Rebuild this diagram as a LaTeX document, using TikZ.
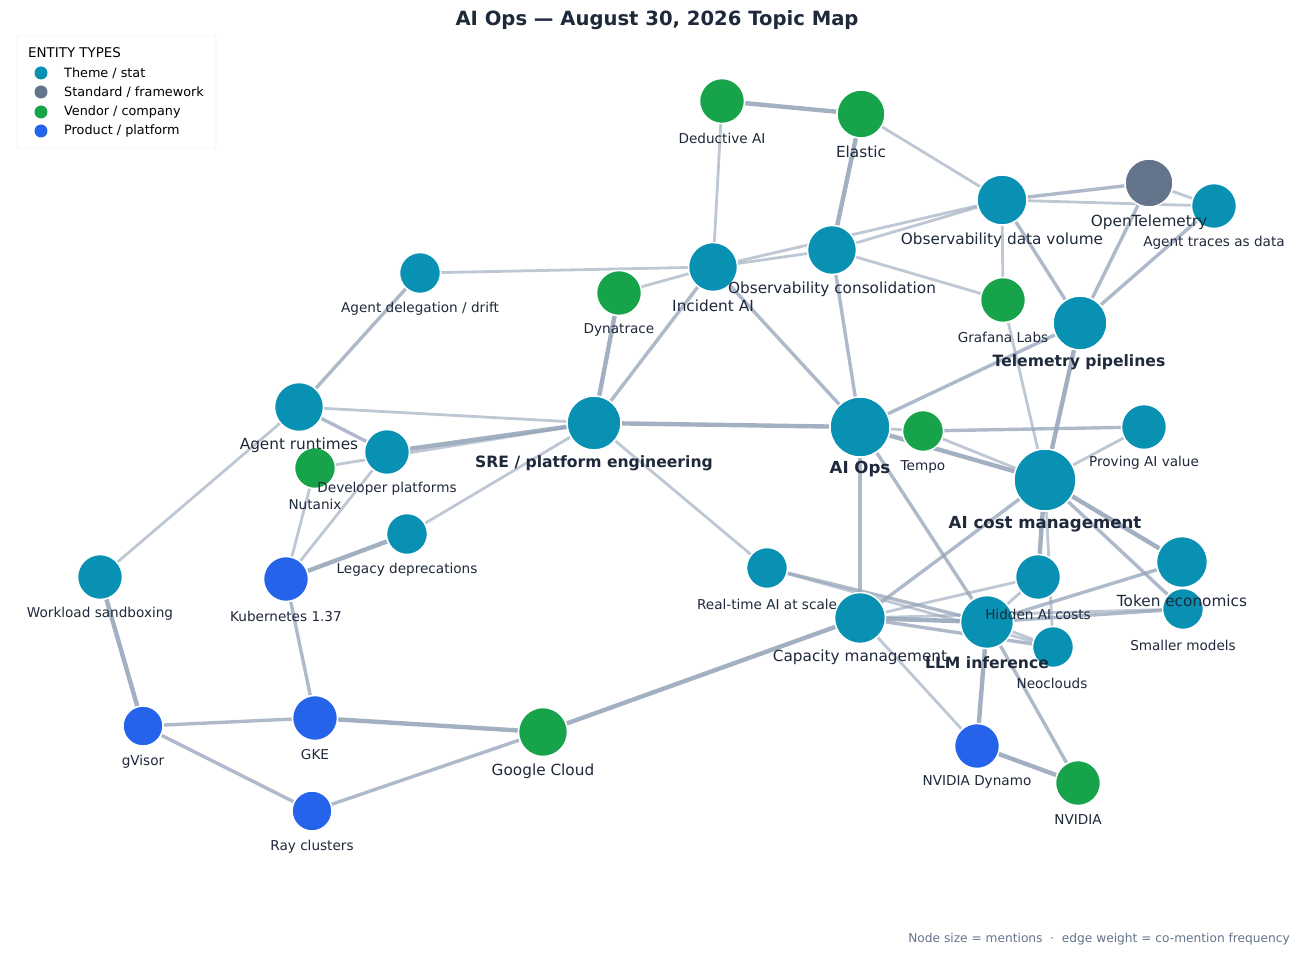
\documentclass[tikz,border=0pt]{standalone}
\usepackage{fontspec}
\setmainfont{DejaVu Sans}
\pgfdeclarelayer{back}\pgfdeclarelayer{bg}\pgfsetlayers{back,bg,main}
\definecolor{theme}{HTML}{0891B2}
\definecolor{stdc}{HTML}{64748B}
\definecolor{vend}{HTML}{16A34A}
\definecolor{prod}{HTML}{2563EB}
\definecolor{ink}{HTML}{1E293B}
\definecolor{edge}{HTML}{94A3B8}
\begin{document}
\begin{tikzpicture}[x=1pt,y=-1pt,
  ent/.style={circle,draw=white,line width=1.5pt,inner sep=0pt},
  th/.style={ent,fill=theme}, sd/.style={ent,fill=stdc}, vd/.style={ent,fill=vend}, pd/.style={ent,fill=prod},
  sl/.style={text=ink,font=\fontsize{13.6}{15}\selectfont,inner sep=0pt},
  ml/.style={text=ink,font=\fontsize{15.3}{17}\selectfont,inner sep=0pt},
  bl/.style={text=ink,font=\bfseries\fontsize{15.6}{17}\selectfont,inner sep=0pt},
  e/.style={draw=edge,line width=2.8pt,opacity=0.6},
  ek/.style={draw=edge,line width=4.4pt,opacity=0.85},
  ef/.style={draw=edge,line width=3.4pt,opacity=0.75}]
\useasboundingbox (0,0) rectangle (1314,957);
\begin{pgfonlayer}{back}\fill[white] (0,0) rectangle (1314,957);\end{pgfonlayer}
\node[font=\bfseries\fontsize{19.6}{22}\selectfont,text=ink] (title) at (657,20) {AI Ops — August 30, 2026 Topic Map};
% nodes
\node[th,minimum size=60] (aiops) at (860,427) {};
\node[th,minimum size=62] (cost) at (1045,480) {};
\node[th,minimum size=54] (sre) at (594,423) {};
\node[th,minimum size=54] (tele) at (1080,323) {};
\node[th,minimum size=50] (odv) at (1002,200) {};
\node[sd,minimum size=48] (otel) at (1149,183) {};
\node[th,minimum size=45] (atd) at (1214,206) {};
\node[vd,minimum size=48] (elastic) at (861,114) {};
\node[vd,minimum size=45] (deduct) at (722,101) {};
\node[th,minimum size=49] (ocons) at (832,250) {};
\node[th,minimum size=49] (inc) at (713,267) {};
\node[vd,minimum size=45] (dyna) at (619,293) {};
\node[vd,minimum size=45] (graf) at (1003,300) {};
\node[th,minimum size=41] (adrift) at (420,273) {};
\node[th,minimum size=49] (art) at (299,407) {};
\node[th,minimum size=45] (dev) at (387,452) {};
\node[vd,minimum size=41] (nut) at (315,468) {};
\node[th,minimum size=41] (leg) at (407,534) {};
\node[pd,minimum size=45] (k8s) at (286,579) {};
\node[th,minimum size=45] (wsb) at (100,577) {};
\node[pd,minimum size=40] (gvis) at (143,726) {};
\node[pd,minimum size=45] (gke) at (315,718) {};
\node[pd,minimum size=40] (ray) at (312,811) {};
\node[vd,minimum size=49] (gcloud) at (543,732) {};
\node[vd,minimum size=41] (tempo) at (923,431) {};
\node[th,minimum size=45] (prove) at (1144,427) {};
\node[th,minimum size=41] (rt) at (767,568) {};
\node[th,minimum size=51] (cap) at (860,618) {};
\node[th,minimum size=53] (llm) at (987,622) {};
\node[th,minimum size=45] (hid) at (1038,577) {};
\node[th,minimum size=51] (tok) at (1182,562) {};
\node[th,minimum size=41] (small) at (1183,609) {};
\node[th,minimum size=41] (neo) at (1053,647) {};
\node[pd,minimum size=45] (dyn) at (977,746) {};
\node[vd,minimum size=45] (nv) at (1078,783) {};
% edges
\begin{pgfonlayer}{bg}
\foreach \a/\b/\s in {deduct/elastic/ek,deduct/inc/e,elastic/ocons/ek,elastic/odv/e,odv/otel/ef,odv/atd/e,otel/atd/e,
 odv/tele/ef,odv/graf/e,odv/ocons/e,otel/tele/ef,atd/tele/ef,inc/ocons/e,inc/odv/e,ocons/graf/e,ocons/aiops/ef,
 inc/adrift/e,inc/dyna/e,inc/sre/ef,inc/aiops/ef,dyna/sre/ek,graf/cost/e,tele/aiops/ef,tele/cost/ek,
 adrift/art/ef,art/sre/e,art/dev/ef,art/wsb/e,dev/sre/ek,nut/sre/e,nut/k8s/e,dev/k8s/e,sre/leg/e,leg/k8s/ek,
 sre/aiops/ek,sre/rt/e,aiops/tempo/e,aiops/cost/ek,aiops/cap/ef,aiops/llm/ef,tempo/prove/ef,cost/prove/e,
 cost/hid/ek,cost/tok/ek,cost/small/ef,cost/cap/ef,cost/neo/e,tempo/cost/e,rt/llm/ef,rt/neo/e,
 cap/hid/e,cap/llm/ek,cap/neo/ef,cap/small/e,cap/gcloud/ek,cap/dyn/e,llm/hid/e,llm/tok/ef,llm/small/ef,llm/dyn/ek,
 llm/nv/ef,llm/neo/e,dyn/nv/ek,k8s/gke/ef,wsb/gvis/ek,gvis/gke/ef,gvis/ray/ef,gke/gcloud/ek,ray/gcloud/ef}
 {\path[\s] (\a) -- (\b);}
\end{pgfonlayer}
% labels
\node[bl,font=\bfseries\fontsize{16.6}{18}\selectfont] (laiops) at (860,469) {AI Ops};
\node[bl,font=\bfseries\fontsize{16.6}{18}\selectfont] (lcost) at (1045,524) {AI cost management};
\node[bl] (lsre) at (594,463) {SRE / platform engineering};
\node[bl] (ltele) at (1079,362) {Telemetry pipelines};
\node[ml] (lodv) at (1002,240) {Observability data volume};
\node[ml] (lotel) at (1149,222) {OpenTelemetry};
\node[sl] (latd) at (1214,243) {Agent traces as data};
\node[ml] (lel) at (861,152) {Elastic};
\node[sl] (lded) at (722,138) {Deductive AI};
\node[ml] (locons) at (832,289) {Observability consolidation};
\node[ml] (linc) at (713,306) {Incident AI};
\node[sl] (ldyna) at (619,330) {Dynatrace};
\node[sl] (lgraf) at (1003,337) {Grafana Labs};
\node[sl] (ladrift) at (420,309) {Agent delegation / drift};
\node[ml] (lart) at (299,445) {Agent runtimes};
\node[sl] (ldev) at (387,489) {Developer platforms};
\node[sl] (lnut) at (315,504) {Nutanix};
\node[sl] (lleg) at (407,570) {Legacy deprecations};
\node[sl] (lk8s) at (286,616) {Kubernetes 1.37};
\node[sl] (lwsb) at (100,614) {Workload sandboxing};
\node[sl] (lgvis) at (143,762) {gVisor};
\node[sl] (lgke) at (315,755) {GKE};
\node[sl] (lray) at (312,847) {Ray clusters};
\node[ml] (lgc) at (543,771) {Google Cloud};
\node[sl] (ltempo) at (923,467) {Tempo};
\node[sl] (lprove) at (1144,463) {Proving AI value};
\node[sl] (lrt) at (767,604) {Real-time AI at scale};
\node[ml] (lcap) at (860,657) {Capacity management};
\node[bl] (lllm) at (987,663) {LLM inference};
\node[sl] (lhid) at (1038,614) {Hidden AI costs};
\node[ml] (ltok) at (1182,601) {Token economics};
\node[sl] (lsmall) at (1183,645) {Smaller models};
\node[sl] (lneo) at (1052,683) {Neoclouds};
\node[sl] (ldyn) at (977,782) {NVIDIA Dynamo};
\node[sl] (lnv) at (1078,820) {NVIDIA};
% legend
\draw[draw=black!12,fill=white,rounded corners=2pt] (17,36) rectangle (216,148);
\node[anchor=west,text=black,font=\fontsize{13.4}{15}\selectfont,inner sep=0pt] (lgt) at (28,53) {ENTITY TYPES};
\foreach \c/\t/\yy [count=\i] in {theme/{Theme / stat}/73,stdc/{Standard / framework}/92,vend/{Vendor / company}/112,prod/{Product / platform}/131}{
 \node[circle,fill=\c,minimum size=13,inner sep=0pt] (lg\i) at (41,\yy) {};
 \node[anchor=west,text=black,font=\fontsize{12.8}{14}\selectfont,inner sep=0pt] (lgx\i) at (64,\yy) {\t};}
\node[anchor=east,text=stdc,font=\fontsize{12.2}{14}\selectfont,inner sep=0pt] (foot) at (1290,939) {Node size = mentions \ · \ edge weight = co-mention frequency};
\end{tikzpicture}
\end{document}
